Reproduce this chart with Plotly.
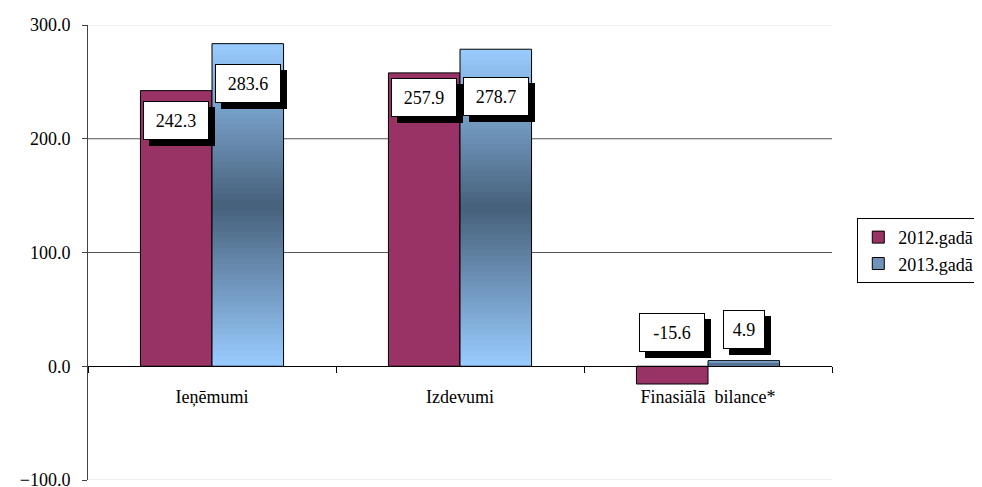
import plotly.graph_objects as go

categories = ['Ieņēmumi', 'Izdevumi', 'Finasiālā  bilance*']
values_2012 = [242.3, 257.9, -15.6]
values_2013 = [283.6, 278.7, 4.9]
series_names = ['2012.gadā', '2013.gadā']

# where the value boxes sit (placed by hand in the original)
label_y_2012 = [216, 236, 30]
label_y_2013 = [249, 237, 32]

FONT = 'Liberation Serif'
MAROON = '#993366'
LIGHT = (153, 204, 255)
DARK = (70, 96, 122)
N_SEG = 60


def blend(t):
    # light at both ends, dark in the middle
    k = 1 - abs(2 * t - 1)
    c = [round(LIGHT[i] + (DARK[i] - LIGHT[i]) * k) for i in range(3)]
    return 'rgb(%d,%d,%d)' % tuple(c)


fig = go.Figure()

fig.add_trace(go.Bar(
    x=categories, y=values_2012, name=series_names[0], offsetgroup='a',
    marker=dict(color=MAROON, line=dict(color='black', width=1)),
))

# legend entry for the gradient series
fig.add_trace(go.Bar(
    x=categories, y=[None] * len(categories), name=series_names[1], offsetgroup='b',
    marker=dict(color='#6F93BA', line=dict(color='black', width=1)),
))

# gradient fill of the 2013 bars, built as thin stacked slices
# (each slice overlaps the next one a little to hide seams)
for i in range(N_SEG):
    t = (i + 0.5) / N_SEG
    h = 1.0 if i == N_SEG - 1 else 1.8
    fig.add_trace(go.Bar(
        x=categories,
        y=[v * h / N_SEG for v in values_2013],
        base=[v * i / N_SEG for v in values_2013],
        offsetgroup='b', showlegend=False, hoverinfo='skip',
        marker=dict(color=blend(t), line=dict(width=0)),
    ))

# outline over the gradient
fig.add_trace(go.Bar(
    x=categories, y=values_2013, offsetgroup='b', showlegend=False,
    marker=dict(color='rgba(0,0,0,0)', line=dict(color='black', width=1)),
))

# value boxes with a drop shadow
for vals, ys, shift in [(values_2012, label_y_2012, -36), (values_2013, label_y_2013, 36)]:
    for cat, v, yy in zip(categories, vals, ys):
        txt = '%.1f' % v
        w = 12 * len(txt) + 2
        common = dict(x=cat, y=yy, showarrow=False, width=w, height=35,
                      font=dict(family=FONT, size=18, color='black'))
        fig.add_annotation(**common, text=' ', xshift=shift + 6, yshift=-6,
                           bgcolor='black', bordercolor='black', borderwidth=1)
        fig.add_annotation(**common, text=txt, xshift=shift, bgcolor='white',
                           bordercolor='black', borderwidth=1)

# gridlines: dark inside, light at the edges
for g, col in ((100, '#555555'), (200, '#555555'), (300, '#DDDDDD'), (-100, '#DDDDDD')):
    fig.add_shape(type='line', xref='paper', x0=0, x1=1, y0=g, y1=g,
                  line=dict(color=col, width=1), layer='below')

fig.update_layout(
    width=974, height=479,
    margin=dict(l=80, r=150, t=17, b=7, autoexpand=False),
    paper_bgcolor='white', plot_bgcolor='white',
    barmode='group', bargap=0.423, bargroupgap=0,
    font=dict(family=FONT, size=18, color='black'),
    legend=dict(x=1.034, y=0.576, xanchor='left', yanchor='top',
                bordercolor='black', borderwidth=1, bgcolor='white',
                font=dict(family=FONT, size=18)),
    xaxis=dict(anchor='free', position=0.25, showline=True, linecolor='black',
               linewidth=1, ticks='outside', tickson='boundaries', ticklen=6,
               tickcolor='black', showgrid=False, ticklabelstandoff=14),
    yaxis=dict(range=[-100, 300], dtick=100, tickformat='.1f', showline=True,
               linecolor='#444444', ticks='outside', ticklen=5, tickcolor='#444444',
               showgrid=False, zeroline=False, ticklabelstandoff=8,
               ticklabeloverflow='allow'),
)

fig.write_html('out.html')
